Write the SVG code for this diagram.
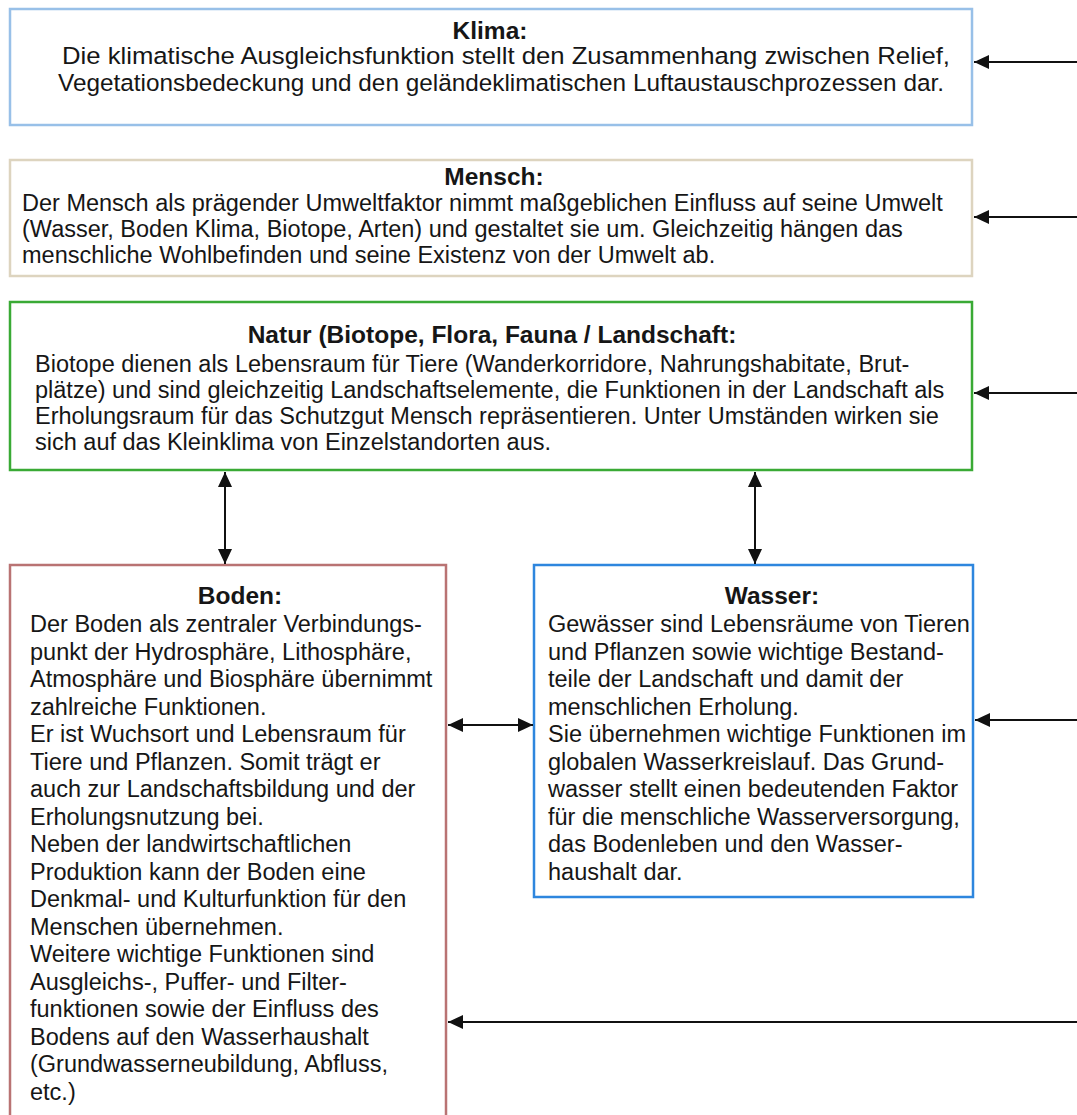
<svg xmlns="http://www.w3.org/2000/svg" width="1077" height="1115" viewBox="0 0 1077 1115">
<style>
.t{font-family:"Liberation Sans",Arial,sans-serif;font-size:23.5px;fill:#161616}
.h{font-family:"Liberation Sans",Arial,sans-serif;font-size:24.5px;font-weight:bold;fill:#161616;text-anchor:middle}
.box{fill:#fff;stroke-width:2.5}
.c{stroke:#111;stroke-width:2;fill:none}
</style>
<defs>
<marker id="ah" markerUnits="userSpaceOnUse" markerWidth="16" markerHeight="14" refX="15" refY="7" orient="auto-start-reverse">
<path d="M0,0 L15,7 L0,14 z" fill="#111"/>
</marker>
</defs>
<rect width="1077" height="1115" fill="#fff"/>
<g id="klima">
<rect class="box" x="10" y="9" width="962" height="116" stroke="#98c0e8"/>
<text class="h" x="490" y="39">Klima:</text>
<text class="t" style="font-size:24.5px"><tspan x="62" y="64" textLength="888" lengthAdjust="spacingAndGlyphs">Die klimatische Ausgleichsfunktion stellt den Zusammenhang zwischen Relief,</tspan><tspan x="58" y="91" textLength="886" lengthAdjust="spacingAndGlyphs">Vegetationsbedeckung und den geländeklimatischen Luftaustauschprozessen dar.</tspan></text>
</g>
<g id="mensch">
<rect class="box" x="10" y="160" width="962" height="116" stroke="#ddd4bf"/>
<text class="h" x="494" y="185">Mensch:</text>
<text class="t"><tspan x="22" y="211">Der Mensch als prägender Umweltfaktor nimmt maßgeblichen Einfluss auf seine Umwelt</tspan><tspan x="22" y="237">(Wasser, Boden Klima, Biotope, Arten) und gestaltet sie um. Gleichzeitig hängen das</tspan><tspan x="22" y="263">menschliche Wohlbefinden und seine Existenz von der Umwelt ab.</tspan></text>
</g>
<g id="natur">
<rect class="box" x="10" y="302" width="962" height="168" stroke="#3aaa35"/>
<text class="h" x="492" y="343">Natur (Biotope, Flora, Fauna / Landschaft:</text>
<text class="t"><tspan x="35" y="372">Biotope dienen als Lebensraum für Tiere (Wanderkorridore, Nahrungshabitate, Brut-</tspan><tspan x="35" y="398">plätze) und sind gleichzeitig Landschaftselemente, die Funktionen in der Landschaft als</tspan><tspan x="35" y="424">Erholungsraum für das Schutzgut Mensch repräsentieren. Unter Umständen wirken sie</tspan><tspan x="35" y="450">sich auf das Kleinklima von Einzelstandorten aus.</tspan></text>
</g>
<g id="boden">
<rect class="box" x="10" y="565" width="436" height="570" stroke="#b97373"/>
<text class="h" x="240" y="604">Boden:</text>
<text class="t"><tspan x="30" y="632">Der Boden als zentraler Verbindungs-</tspan><tspan x="30" y="659.5">punkt der Hydrosphäre, Lithosphäre,</tspan><tspan x="30" y="687">Atmosphäre und Biosphäre übernimmt</tspan><tspan x="30" y="714.5">zahlreiche Funktionen.</tspan><tspan x="30" y="742">Er ist Wuchsort und Lebensraum für</tspan><tspan x="30" y="769.5">Tiere und Pflanzen. Somit trägt er</tspan><tspan x="30" y="797">auch zur Landschaftsbildung und der</tspan><tspan x="30" y="824.5">Erholungsnutzung bei.</tspan><tspan x="30" y="852">Neben der landwirtschaftlichen</tspan><tspan x="30" y="879.5">Produktion kann der Boden eine</tspan><tspan x="30" y="907">Denkmal- und Kulturfunktion für den</tspan><tspan x="30" y="934.5">Menschen übernehmen.</tspan><tspan x="30" y="962">Weitere wichtige Funktionen sind</tspan><tspan x="30" y="989.5">Ausgleichs-, Puffer- und Filter-</tspan><tspan x="30" y="1017">funktionen sowie der Einfluss des</tspan><tspan x="30" y="1044.5">Bodens auf den Wasserhaushalt</tspan><tspan x="30" y="1072">(Grundwasserneubildung, Abfluss,</tspan><tspan x="30" y="1099.5">etc.)</tspan></text>
</g>
<g id="wasser">
<rect class="box" x="534" y="565" width="439" height="332" stroke="#2e86de"/>
<text class="h" x="772" y="604">Wasser:</text>
<text class="t"><tspan x="548" y="632">Gewässer sind Lebensräume von Tieren</tspan><tspan x="548" y="659.5">und Pflanzen sowie wichtige Bestand-</tspan><tspan x="548" y="687">teile der Landschaft und damit der</tspan><tspan x="548" y="714.5">menschlichen Erholung.</tspan><tspan x="548" y="742">Sie übernehmen wichtige Funktionen im</tspan><tspan x="548" y="769.5">globalen Wasserkreislauf. Das Grund-</tspan><tspan x="548" y="797">wasser stellt einen bedeutenden Faktor</tspan><tspan x="548" y="824.5">für die menschliche Wasserversorgung,</tspan><tspan x="548" y="852">das Bodenleben und den Wasser-</tspan><tspan x="548" y="879.5">haushalt dar.</tspan></text>
</g>
<g id="connectors">
<line class="c" x1="1080" y1="62" x2="974" y2="62" marker-end="url(#ah)"/>
<line class="c" x1="1080" y1="217" x2="974" y2="217" marker-end="url(#ah)"/>
<line class="c" x1="1080" y1="393" x2="974" y2="393" marker-end="url(#ah)"/>
<line class="c" x1="1080" y1="720" x2="975" y2="720" marker-end="url(#ah)"/>
<line class="c" x1="1080" y1="1022" x2="448" y2="1022" marker-end="url(#ah)"/>
<line class="c" x1="225" y1="472" x2="225" y2="564" marker-start="url(#ah)" marker-end="url(#ah)"/>
<line class="c" x1="755" y1="472" x2="755" y2="564" marker-start="url(#ah)" marker-end="url(#ah)"/>
<line class="c" x1="448" y1="725" x2="533" y2="725" marker-start="url(#ah)" marker-end="url(#ah)"/>
</g>
</svg>
